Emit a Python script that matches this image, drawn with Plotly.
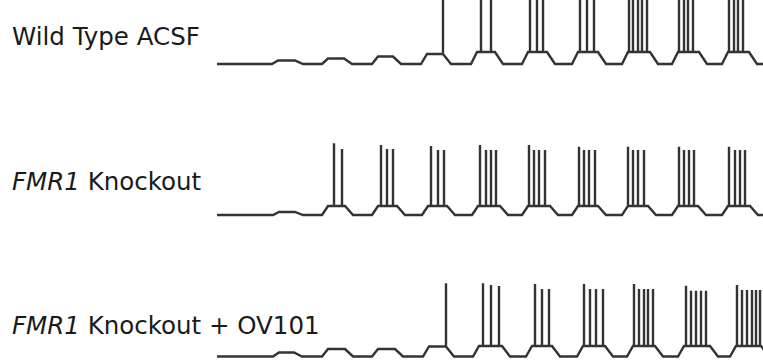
import plotly.graph_objects as go

# Time axis in ms, membrane potential in mV.
REST_MV = -65.0
T_START, T_END = 0, 5500
RISE_MS, FALL_MS = 60, 80

# ---- Wild Type ACSF ----
wt_onsets = [550, 1050, 1550, 2040, 2540, 3050, 3550, 4050, 4550, 5050]
wt_offsets = [780, 1270, 1760, 2260, 2780, 3300, 3810, 4330, 4820, 5320]
wt_levels = [-61.5, -59.5, -57.5, -55, -53, -53, -53, -53, -53, -53]
wt_spikes = [[], [], [], [2260], [2640, 2740], [3130, 3200, 3260],
             [3630, 3700, 3770], [4120, 4160, 4210, 4250, 4300],
             [4620, 4670, 4710, 4760], [5120, 5170, 5210, 5260]]
wt_peaks = [[], [], [], [15], [15, 15], [15, 15, 15], [15, 15, 15],
            [15, 15, 15, 15, 15], [15, 15, 15, 15], [15, 15, 15, 15]]

# ---- FMR1 Knockout ----
ko_onsets = [560, 1050, 1550, 2050, 2550, 3050, 3550, 4050, 4550, 5050]
ko_offsets = [780, 1280, 1800, 2300, 2830, 3330, 3810, 4310, 4810, 5330]
ko_levels = [-62, -56, -56, -56, -56, -56, -56, -56, -56, -56]
ko_spikes = [[], [1170, 1250], [1640, 1700, 1760], [2140, 2210, 2270],
             [2630, 2690, 2740, 2790], [3120, 3170, 3220, 3280],
             [3620, 3670, 3720, 3780], [4110, 4160, 4210, 4270],
             [4620, 4670, 4720, 4770], [5120, 5180, 5230, 5280]]
ko_peaks = [[], [6.7, 1], [5, 1, 1], [4, 0, 0], [5, 0, 0, 0], [5, 0, 0, 0],
            [3.3, 0, 0, 0], [3.3, 0, 0, 0], [3.3, 0, 0, 0], [3.3, 0, 0, 0]]

# ---- FMR1 Knockout + OV101 ----
ov_onsets = [560, 1050, 1550, 2060, 2560, 3090, 3600, 4100, 4610, 5130]
ov_offsets = [770, 1280, 1780, 2290, 2850, 3350, 3880, 4380, 4930, 5440]
ov_levels = [-61, -57.5, -57.5, -55, -54.5, -54.5, -54.5, -54.5, -54.5, -54.5]
ov_spikes = [[], [], [], [2290], [2660, 2740, 2820], [3180, 3250, 3320],
             [3670, 3730, 3790, 3860], [4170, 4220, 4270, 4310, 4360],
             [4690, 4740, 4790, 4840, 4890],
             [5200, 5250, 5300, 5350, 5390, 5430]]
ov_peaks = [[], [], [], [8.2], [8.2, 6.5, 5.5], [7.5, 2.5, 2.5],
            [7.5, 2.5, 2.5, 2.5], [7.5, 2.5, 2.5, 2.5, 2.5],
            [5.8, 0.8, 0.8, 0.8, 0.8], [6.5, 1.5, 1.5, 1.5, 1.5, 1.5]]

labels = ["Wild Type ACSF", "<i>FMR1</i> Knockout", "<i>FMR1</i> Knockout + OV101"]

LINE_COLOR = "#333333"
TEXT_COLOR = "#1a1a1a"


def build_trace(onsets, offsets, levels, spikes, peaks):
    """Piecewise voltage trace: ramped current steps with spikes on the plateau."""
    xs, ys = [T_START], [REST_MV]
    for on, off, lvl, sp, pk in zip(onsets, offsets, levels, spikes, peaks):
        xs += [on, on + RISE_MS]
        ys += [REST_MV, lvl]
        for t, p in zip(sp, pk):
            xs += [t, t, t]
            ys += [lvl, p, lvl]
        xs += [off, off + FALL_MS]
        ys += [lvl, REST_MV]
    xs.append(T_END)
    ys.append(REST_MV)
    return xs, ys


series = [
    (wt_onsets, wt_offsets, wt_levels, wt_spikes, wt_peaks),
    (ko_onsets, ko_offsets, ko_levels, ko_spikes, ko_peaks),
    (ov_onsets, ov_offsets, ov_levels, ov_spikes, ov_peaks),
]

fig = go.Figure()
axis_ids = ["y", "y2", "y3"]
for s, yid in zip(series, axis_ids):
    xs, ys = build_trace(*s)
    fig.add_trace(go.Scatter(
        x=xs, y=ys, mode="lines", yaxis=yid, xaxis="x",
        line=dict(color=LINE_COLOR, width=2.4, simplify=False),
        hoverinfo="skip", showlegend=False,
    ))

W, H = 763, 362
hidden = dict(visible=False, showgrid=False, zeroline=False, fixedrange=True)

fig.update_layout(
    width=W, height=H,
    margin=dict(l=0, r=0, t=0, b=0),
    paper_bgcolor="white", plot_bgcolor="white",
    xaxis=dict(range=[-2170, 5460], domain=[0, 1], **hidden),
    yaxis=dict(range=[-123, -1], domain=[1 - 122 / H, 1], **hidden),
    yaxis2=dict(range=[-90, 25], domain=[1 - 240 / H, 1 - 125 / H], **hidden),
    yaxis3=dict(range=[-70.5, 46.5], domain=[0, 1 - 245 / H], **hidden),
)

label_y = [1 - 36.5 / H, 1 - 181.5 / H, 1 - 325 / H]
for text, yy in zip(labels, label_y):
    fig.add_annotation(
        text=text, xref="paper", yref="paper", x=10 / W, y=yy,
        xanchor="left", yanchor="middle", showarrow=False,
        font=dict(family="DejaVu Sans", size=24.5, color=TEXT_COLOR),
    )

fig.write_html("out.html")
